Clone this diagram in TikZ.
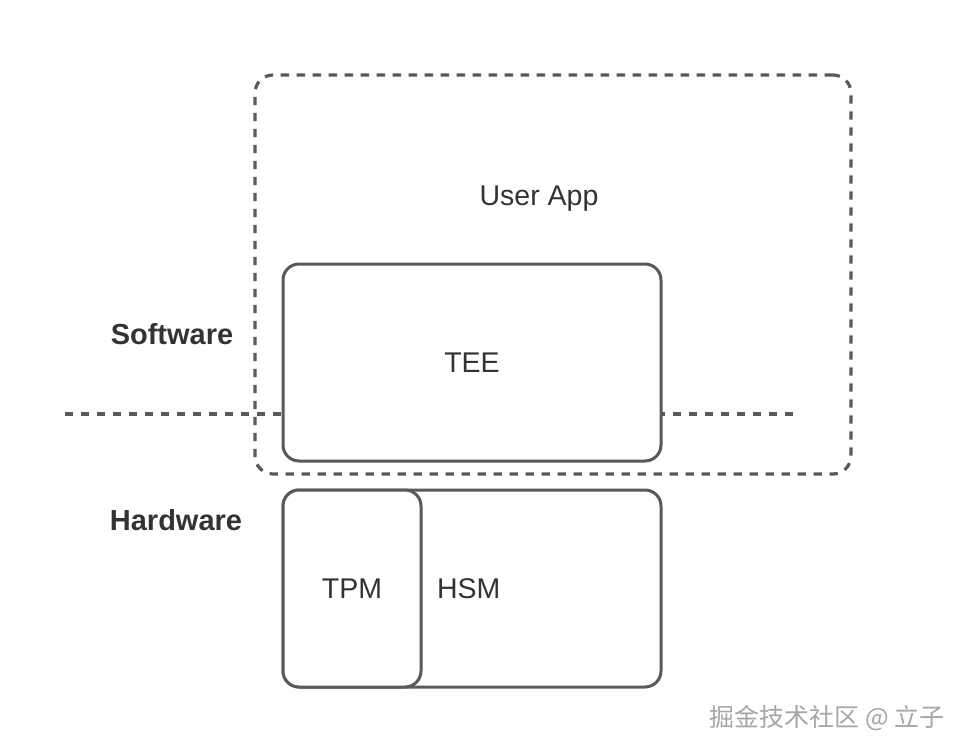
\documentclass[tikz,border=0pt]{standalone}
\usepackage{fontspec}
\setmainfont{Liberation Sans}
\newfontfamily\cjkfont{Noto Sans CJK SC}
\usetikzlibrary{positioning}
\definecolor{linegray}{HTML}{595959}
\definecolor{textgray}{HTML}{333333}
\tikzset{
  blockbox/.style={draw=linegray, line width=3pt, rounded corners=16pt, fill=white, inner sep=0pt},
  dashline/.style={draw=linegray, line width=3.2pt, dash pattern=on 8.3pt off 7.7pt},
  lbl/.style={text=textgray, font=\fontsize{28.5}{31}\selectfont},
  sidelbl/.style={text=textgray, font=\fontsize{29}{32}\selectfont\bfseries}
}
\begin{document}
\begin{tikzpicture}[x=1pt, y=-1pt]
  \useasboundingbox (0,0) rectangle (966,754);
  % divider between software and hardware
  \coordinate (divl) at (65,414);
  \coordinate (divr) at (793,414);
  \draw[dashline] (divl) -- (divr);
  % user space
  \node (app) [dashline, rounded corners=18pt, minimum width=596pt, minimum height=399pt] at (553,274.5) {};
  \node (applbl) [lbl] at (539,199) {User App};
  \node (tee) [blockbox, minimum width=378pt, minimum height=197pt] at (472,362.5) {};
  \node (teelbl) [lbl] at (tee) {TEE};
  % hardware
  \node (hsm) [blockbox, minimum width=378pt, minimum height=197pt] at (472,588.5) {};
  \node (tpm) [blockbox, minimum width=138pt, minimum height=197pt] at (352,588.5) {};
  \node (tpmlbl) [lbl] at (tpm) {TPM};
  \node (hsmlbl) [lbl, right=11pt of tpm] {HSM};
  \node (sw) [sidelbl] at (172,334) {Software};
  \node (hw) [sidelbl] at (176,520) {Hardware};
  \node (mark) [text=gray!70, font=\cjkfont\fontsize{25}{27}\selectfont] at (827,718) {掘金技术社区 @ 立子};
\end{tikzpicture}
\end{document}
